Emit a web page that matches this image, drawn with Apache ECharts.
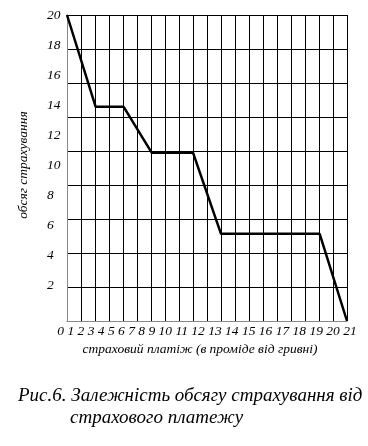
<!DOCTYPE html>
<html>
<head>
<meta charset="utf-8">
<script src="https://cdn.jsdelivr.net/npm/echarts@6/dist/echarts.min.js"></script>
<style>html,body{margin:0;padding:0;background:#fff}#c{width:368px;height:446px}</style>
</head>
<body>
<div id="c"></div>
<script>
// data (x: страховий платіж, y: обсяг страхування)
var payment = [0, 2.15, 4.25, 6.35, 9.45, 11.55, 18.95, 21];
var volume  = [20, 14, 14, 11, 11, 5.7, 5.7, 0];
var xTickLabels = ['0','1','2','3','4','5','6','7','8','9','10','11','12','13','14','15','16','17','18','19','20','21'];
var xName = 'страховий платіж (в проміде від гривні)';
var yName = 'обсяг страхування';
var caption1 = 'Рис.6. Залежність обсягу страхування від';
var caption2 = 'страхового платежу';

var FONT = '"Liberation Serif", "DejaVu Serif", serif';
var chart = echarts.init(document.getElementById('c'), null, {renderer: 'canvas'});
chart.setOption({
  animation: false,
  backgroundColor: '#fff',
  title: [
    {text: caption1, left: 13, top: 381, textStyle: {fontFamily: FONT, fontStyle: 'italic', fontWeight: 'normal', fontSize: 19, color: '#000'}},
    {text: caption2, left: 65, top: 403, textStyle: {fontFamily: FONT, fontStyle: 'italic', fontWeight: 'normal', fontSize: 19, color: '#000'}}
  ],
  grid: [
    {left: 67, top: 15, width: 280, height: 306, containLabel: false},
    {left: 67, top: 15, width: 280, height: 301, containLabel: false}
  ],
  xAxis: [
    {type: 'value', gridIndex: 0, min: 0, max: 21, interval: 1.05,
     axisLine: {show: true, lineStyle: {color: '#888', width: 1}},
     axisTick: {show: false},
     splitLine: {show: true, lineStyle: {color: '#000', width: 1}},
     axisLabel: {show: true, margin: 3, fontFamily: FONT, fontStyle: 'italic', fontSize: 13.5, color: '#000',
       formatter: function (v) { return Math.abs(v - 10.5) < 1e-6 ? xTickLabels.join(' ') : ''; }},
     name: xName, nameLocation: 'middle', nameGap: 19,
     nameTextStyle: {fontFamily: FONT, fontStyle: 'italic', fontSize: 13.5, color: '#000', padding: [0, 14, 0, 0]}
    },
    {type: 'value', gridIndex: 1, min: 0, max: 21, show: false}
  ],
  yAxis: [
    {type: 'value', gridIndex: 0, min: 0, max: 20, interval: 20 / 9,
     axisLine: {show: true, lineStyle: {color: '#888', width: 1}},
     axisTick: {show: false},
     axisLabel: {show: false},
     splitLine: {show: true, lineStyle: {color: '#000', width: 1}},
     name: yName, nameLocation: 'middle', nameGap: 37, nameRotate: 90,
     nameTextStyle: {fontFamily: FONT, fontStyle: 'italic', fontSize: 13.5, color: '#000', padding: [0, 0, 0, 6]}
    },
    {type: 'value', gridIndex: 1, min: 0, max: 20, interval: 2,
     axisLine: {show: false}, axisTick: {show: false}, splitLine: {show: false},
     axisLabel: {show: true, showMinLabel: false, align: 'left', margin: 20,
       fontFamily: FONT, fontStyle: 'italic', fontSize: 13.5, color: '#000'}
    }
  ],
  series: [{
    type: 'line',
    xAxisIndex: 0, yAxisIndex: 0,
    data: payment.map(function (x, i) { return [x, volume[i]]; }),
    symbol: 'none',
    lineStyle: {color: '#000', width: 2.5},
    z: 5
  }]
});
</script>
</body>
</html>
